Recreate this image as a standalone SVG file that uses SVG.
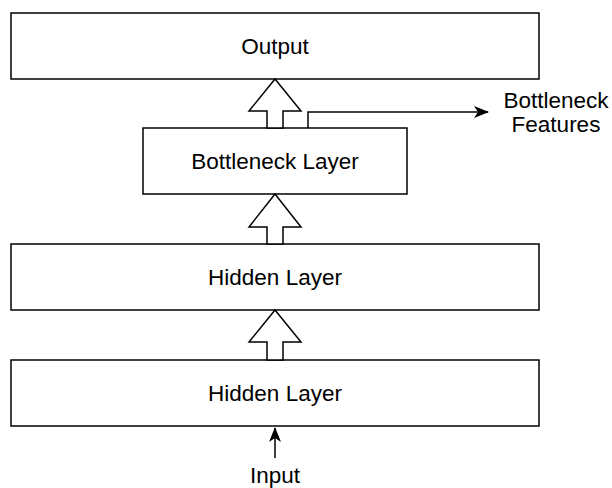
<svg xmlns="http://www.w3.org/2000/svg" width="612" height="488" viewBox="0 0 612 488">
<style>
.box{fill:#fff;stroke:#000;stroke-width:1.5}
.blk{fill:#fff;stroke:#000;stroke-width:1.5;stroke-linejoin:miter}
.ln{fill:none;stroke:#000;stroke-width:1.5}
text{font-family:"Liberation Sans",Arial,sans-serif;font-size:22.5px;fill:#000;text-anchor:middle}
</style>
<defs>
<marker id="ah" markerWidth="16" markerHeight="12" refX="14" refY="6" orient="auto" markerUnits="userSpaceOnUse">
<path d="M0,0 L15,6 L0,12 L4,6 Z" fill="#000"/>
</marker>
</defs>
<g id="output"><rect class="box" x="11" y="13" width="528" height="66"/><text x="275" y="54">Output</text></g>
<g id="bottleneck"><rect class="box" x="143" y="128" width="264" height="66"/><text x="275" y="169">Bottleneck Layer</text></g>
<g id="hidden2"><rect class="box" x="11" y="244" width="528" height="66"/><text x="275" y="285">Hidden Layer</text></g>
<g id="hidden1"><rect class="box" x="11" y="360" width="528" height="66"/><text x="275" y="401">Hidden Layer</text></g>
<g id="features"><text x="556" y="108">Bottleneck</text><text x="556" y="132">Features</text></g>
<g id="input"><text x="275" y="483">Input</text></g>
<g id="connectors">
<path class="blk" d="M275,79 L301,111 L283,111 L283,128 L267,128 L267,111 L249,111 Z"/>
<path class="blk" d="M275,194 L301,227 L283,227 L283,244 L267,244 L267,227 L249,227 Z"/>
<path class="blk" d="M275,310 L301,342 L283,342 L283,360 L267,360 L267,342 L249,342 Z"/>
<path class="ln" d="M308,128 L308,112 L488,112" marker-end="url(#ah)"/>
<path class="ln" d="M275,458 L275,428" marker-end="url(#ah)"/>
</g>
</svg>
